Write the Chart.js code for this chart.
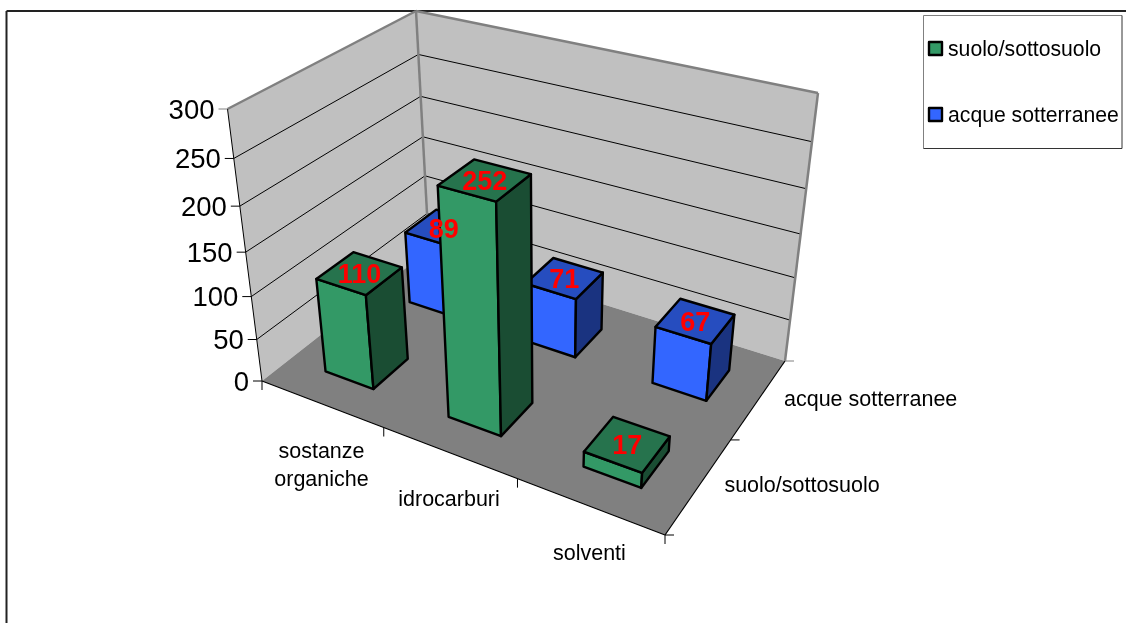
<!DOCTYPE html>
<html>
<head>
<meta charset="utf-8">
<style>
  html, body { margin: 0; padding: 0; background: #fff; }
  canvas { display: block; }
</style>
<script src="https://cdn.jsdelivr.net/npm/chart.js@4/dist/chart.umd.min.js"></script>
</head>
<body>
<canvas id="chart" width="1126" height="623"></canvas>
<script>
// ------------------------------------------------------
// DATA
// ------------------------------------------------------
const categories = [["sostanze", "organiche"], ["idrocarburi"], ["solventi"]];
const seriesNames = ["suolo/sottosuolo", "acque sotterranee"];
const suolo = [110, 252, 17];
const acque = [89, 71, 67];
const yTicks = [0, 50, 100, 150, 200, 250, 300];

// face colours: front, top, side
const GREEN = ["#339966", "#26734D", "#1A4D33"];
const BLUE = ["#3366FF", "#264DBF", "#1A3380"];
const FONT = "'Liberation Sans', Arial, sans-serif";

// ------------------------------------------------------
// 3D BOX OF THE PLOT: floor and ceiling corners on screen
// order: front-left, front-right, back-right, back-left
// ------------------------------------------------------
const FLOOR = [[262, 381], [665, 535], [785, 361], [429, 250]];
const CEIL = [[227.5, 109], [689, 233], [818, 93], [416, 11]];
const PERSP = -0.1;

function quadMap(q) {
  const [p00, p10, p11, p01] = q;
  const d1x = p10[0] - p11[0], d1y = p10[1] - p11[1];
  const d2x = p01[0] - p11[0], d2y = p01[1] - p11[1];
  const sx = p00[0] - p10[0] + p11[0] - p01[0];
  const sy = p00[1] - p10[1] + p11[1] - p01[1];
  const den = d1x * d2y - d1y * d2x;
  const a = (sx * d2y - sy * d2x) / den;
  const b = (d1x * sy - d1y * sx) / den;
  return function (u, v) {
    const w = a * u + b * v + 1;
    return [
      ((p10[0] * (a + 1) - p00[0]) * u + (p01[0] * (b + 1) - p00[0]) * v + p00[0]) / w,
      ((p10[1] * (a + 1) - p00[1]) * u + (p01[1] * (b + 1) - p00[1]) * v + p00[1]) / w,
    ];
  };
}

const floorAt = quadMap(FLOOR);
const ceilAt = quadMap(CEIL);

function project(u, v, h) {
  const f = floorAt(u, v);
  const c = ceilAt(u, v);
  const t = (h * (1 + PERSP)) / (1 + PERSP * h);
  return [f[0] + (c[0] - f[0]) * t, f[1] + (c[1] - f[1]) * t];
}

// ------------------------------------------------------
// DRAW HELPERS
// ------------------------------------------------------
function poly(ctx, pts, fill, stroke, lw) {
  ctx.beginPath();
  pts.forEach(function (p, i) {
    if (i === 0) ctx.moveTo(p[0], p[1]);
    else ctx.lineTo(p[0], p[1]);
  });
  ctx.closePath();
  if (fill) {
    ctx.fillStyle = fill;
    ctx.fill();
  }
  if (stroke) {
    ctx.strokeStyle = stroke;
    ctx.lineWidth = lw;
    ctx.stroke();
  }
}

function line(ctx, a, b, color, lw) {
  ctx.beginPath();
  ctx.moveTo(a[0], a[1]);
  ctx.lineTo(b[0], b[1]);
  ctx.strokeStyle = color;
  ctx.lineWidth = lw;
  ctx.stroke();
}

function text(ctx, str, x, y, font, color, align) {
  ctx.font = font;
  ctx.fillStyle = color;
  ctx.textAlign = align;
  ctx.textBaseline = "middle";
  ctx.fillText(str, x, y);
}

// ------------------------------------------------------
// PLUGIN: walls, floor, axes
// ------------------------------------------------------
function drawBackground(chart) {
  const ctx = chart.ctx;
  const yScale = chart.scales.y;
  const xScale = chart.scales.x;
  const heightOf = function (val) {
    return (yScale.bottom - yScale.getPixelForValue(val)) / yScale.height;
  };

  // frame of the chart, open on the other two sides
  line(ctx, [6.5, 623], [6.5, 11], "#222", 2);
  line(ctx, [6.5, 11], [1126, 11], "#222", 2);

  poly(ctx, [project(0, 0, 0), project(0, 1, 0), project(0, 1, 1), project(0, 0, 1)], "#C0C0C0");
  poly(ctx, [project(0, 1, 0), project(1, 1, 0), project(1, 1, 1), project(0, 1, 1)], "#C0C0C0");
  poly(ctx, [project(0, 0, 0), project(1, 0, 0), project(1, 1, 0), project(0, 1, 0)], "#808080");

  // gridlines on both walls
  yTicks.forEach(function (t) {
    const h = heightOf(t);
    if (t > 0 && t < 300) {
      line(ctx, project(0, 0, h), project(0, 1, h), "#000", 1);
      line(ctx, project(0, 1, h), project(1, 1, h), "#000", 1);
    }
  });

  // wall edges
  line(ctx, project(0, 0, 1), project(0, 1, 1), "#808080", 2.5);
  line(ctx, project(0, 1, 1), project(1, 1, 1), "#808080", 2.5);
  line(ctx, project(0, 1, 0), project(0, 1, 1), "#808080", 2.5);
  line(ctx, project(1, 1, 0), project(1, 1, 1), "#808080", 2.5);

  // value axis
  line(ctx, project(0, 0, 0), project(0, 0, 1), "#000", 1);
  yTicks.forEach(function (t) {
    const p = project(0, 0, heightOf(t));
    line(ctx, [p[0] - 9, p[1]], p, t === 300 ? "#808080" : "#000", 1);
    text(ctx, String(t), p[0] - 13, p[1] + 2, "27.5px " + FONT, "#000", "right");
  });

  // front and right floor edges with their ticks
  line(ctx, project(0, 0, 0), project(1, 0, 0), "#000", 1.2);
  line(ctx, project(1, 0, 0), project(1, 1, 0), "#000", 1.2);
  for (let i = 0; i <= categories.length; i++) {
    const p = project(i / categories.length, 0, 0);
    line(ctx, p, [p[0], p[1] + 9], "#000", 1);
  }
  for (let i = 0; i <= seriesNames.length; i++) {
    const p = project(1, i / seriesNames.length, 0);
    line(ctx, p, [p[0] + 9, p[1]], i === seriesNames.length ? "#808080" : "#000", 1);
  }

  // category labels
  categories.forEach(function (lines, i) {
    const u = (xScale.getPixelForValue(i) - xScale.left) / xScale.width;
    const p = project(u, 0, 0);
    lines.forEach(function (str, n) {
      text(ctx, str, p[0], p[1] + 48 + n * 28, "21.5px " + FONT, "#000", "center");
    });
  });

  // series labels along the depth axis
  seriesNames.forEach(function (str, i) {
    const p = project(1, (i + 0.5) / seriesNames.length, 0);
    text(ctx, str, p[0] + 25, p[1] + 1, "21.5px " + FONT, "#000", "left");
  });
}

function drawBox(ctx, el, row, colors) {
  const xs = el.chart.scales.x;
  const ys = el.chart.scales.y;
  const W = xs.width;
  const u0 = (el.bar.x - el.bar.width / 2 - xs.left) / W;
  const u1 = (el.bar.x + el.bar.width / 2 - xs.left) / W;
  const depth = ((el.bar.width / W) * categories.length) / seriesNames.length;
  const vc = (row + 0.5) / seriesNames.length;
  const v0 = vc - depth / 2;
  const v1 = vc + depth / 2;
  const h = (ys.bottom - el.bar.y) / ys.height;

  const fb0 = project(u0, v0, 0), fb1 = project(u1, v0, 0), bb1 = project(u1, v1, 0);
  const ft0 = project(u0, v0, h), ft1 = project(u1, v0, h);
  const bt1 = project(u1, v1, h), bt0 = project(u0, v1, h);

  ctx.lineJoin = "round";
  poly(ctx, [fb0, fb1, ft1, ft0], colors[0], "#000", 2.4);
  poly(ctx, [fb1, bb1, bt1, ft1], colors[2], "#000", 2.4);
  poly(ctx, [ft0, ft1, bt1, bt0], colors[1], "#000", 2.4);

  return project((u0 + u1) / 2, vc, h);
}

function drawLegend(chart) {
  const ctx = chart.ctx;
  poly(ctx, [[923.5, 15.5], [1122, 15.5], [1122, 148.5], [923.5, 148.5]], "#fff");
  line(ctx, [923.5, 15.5], [1122, 15.5], "#808080", 1);
  line(ctx, [923.5, 15.5], [923.5, 148.5], "#808080", 1);
  line(ctx, [1122, 15.5], [1122, 148.5], "#333", 1);
  line(ctx, [923.5, 148.5], [1122, 148.5], "#333", 1);
  chart.data.datasets.forEach(function (ds, i) {
    const y = 48.5 + i * 66;
    poly(ctx, [[929, y - 6.5], [942, y - 6.5], [942, y + 6.5], [929, y + 6.5]], ds.backgroundColor, "#000", 2.4);
    text(ctx, ds.label, 948, y + 2, "21.2px " + FONT, "#000", "left");
  });
}

const box3d = {
  id: "box3d",
  beforeDatasetsDraw: function (chart) {
    drawBackground(chart);
  },
  // the flat bars of the library are replaced by their 3D boxes
  beforeDatasetDraw: function () {
    return false;
  },
  afterDatasetsDraw: function (chart) {
    const ctx = chart.ctx;
    const labels = [];
    // back row first, so the front row covers it
    for (let d = chart.data.datasets.length - 1; d >= 0; d--) {
      const ds = chart.data.datasets[d];
      chart.getDatasetMeta(d).data.forEach(function (bar, i) {
        const top = drawBox(ctx, { chart: chart, bar: bar }, d, ds.faces);
        labels.push({ str: String(ds.data[i]), x: top[0], y: top[1] });
      });
    }
    labels.forEach(function (l) {
      text(ctx, l.str, l.x, l.y + 2.5, "bold 27px " + FONT, "#FF0000", "center");
    });
    drawLegend(chart);
  },
};

// ------------------------------------------------------
// CHART
// ------------------------------------------------------
new Chart(document.getElementById("chart"), {
  type: "bar",
  plugins: [box3d],
  data: {
    labels: categories,
    datasets: [
      { label: seriesNames[0], data: suolo, backgroundColor: GREEN[0], faces: GREEN, barPercentage: 0.4, categoryPercentage: 1 },
      { label: seriesNames[1], data: acque, backgroundColor: BLUE[0], faces: BLUE, barPercentage: 0.4, categoryPercentage: 1 },
    ],
  },
  options: {
    responsive: false,
    animation: false,
    layout: { padding: 0 },
    plugins: {
      legend: { display: false },
      tooltip: { enabled: false },
    },
    scales: {
      x: { display: false, stacked: true },
      y: { display: false, min: 0, max: 300 },
    },
  },
});
</script>
</body>
</html>
